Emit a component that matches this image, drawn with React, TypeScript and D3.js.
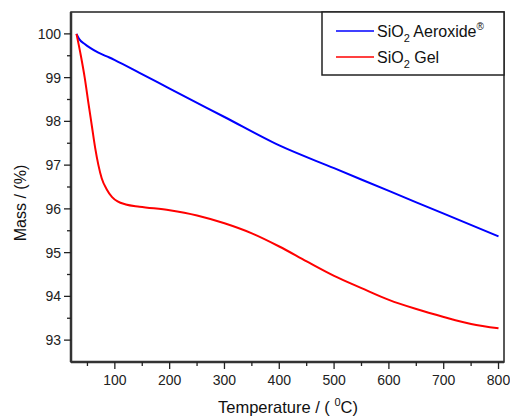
import React, { useEffect, useRef } from "react";
import * as d3 from "d3";

// temperature (°C) / mass (%)
const aeroxideTemp = [30, 35, 45, 55, 70, 90, 100, 145, 200, 300, 400, 500, 600, 700, 800];
const aeroxideMass = [100, 99.88, 99.77, 99.68, 99.57, 99.46, 99.4, 99.11, 98.75, 98.1, 97.45, 96.93, 96.41, 95.89, 95.37];

const gelTemp = [30, 38, 45, 52, 58, 64, 70, 76, 85, 95, 105, 120, 145, 200, 250, 300, 350, 400, 450, 500, 550, 600, 650, 700, 750, 800];
const gelMass = [100, 99.5, 99.0, 98.4, 97.9, 97.4, 97.0, 96.7, 96.45, 96.27, 96.17, 96.1, 96.05, 95.97, 95.85, 95.67, 95.44, 95.14, 94.8, 94.47, 94.19, 93.92, 93.71, 93.53, 93.37, 93.27];

const xTicks = [100, 200, 300, 400, 500, 600, 700, 800];
const xMinor = [50, 150, 250, 350, 450, 550, 650, 750];
const yTicks = [93, 94, 95, 96, 97, 98, 99, 100];
const yMinor = [93.5, 94.5, 95.5, 96.5, 97.5, 98.5, 99.5];

const series = [
  { name: "Aeroxide", color: "#0000ff", temp: aeroxideTemp, mass: aeroxideMass },
  { name: "Gel", color: "#ff0000", temp: gelTemp, mass: gelMass },
];

export default function App() {
  const ref = useRef<SVGSVGElement>(null);

  useEffect(() => {
    const left = 71, right = 504, top = 12, bottom = 362;
    const font = "'Liberation Sans', Arial, sans-serif";

    const svg = d3.select(ref.current);
    svg.selectAll("*").remove();

    const x = d3.scaleLinear().domain([20, 810]).range([left, right]);
    const y = d3.scaleLinear().domain([92.5, 100.5]).range([bottom, top]);

    // curves
    series.forEach(s => {
      const pts = s.temp.map((t, i) => [t, s.mass[i]] as [number, number]);
      const line = d3.line<[number, number]>()
        .x(d => x(d[0]))
        .y(d => y(d[1]))
        .curve(d3.curveMonotoneX);
      svg.append("path")
        .datum(pts)
        .attr("fill", "none")
        .attr("stroke", s.color)
        .attr("stroke-width", 2)
        .attr("d", line);
    });

    // frame
    svg.append("rect")
      .attr("x", left).attr("y", top)
      .attr("width", right - left).attr("height", bottom - top)
      .attr("fill", "none").attr("stroke", "#222").attr("stroke-width", 1.5);

    // x axis
    const xAxis = svg.append("g").attr("transform", `translate(0,${bottom})`);
    xAxis.append("line").attr("x1", left).attr("x2", right)
      .attr("stroke", "#333").attr("stroke-width", 2.5);
    xAxis.selectAll(".maj").data(xTicks).enter().append("line")
      .attr("x1", d => x(d)).attr("x2", d => x(d))
      .attr("y1", 0).attr("y2", 7).attr("stroke", "#222").attr("stroke-width", 1.3);
    xAxis.selectAll(".min").data(xMinor).enter().append("line")
      .attr("x1", d => x(d)).attr("x2", d => x(d))
      .attr("y1", 0).attr("y2", 4).attr("stroke", "#222").attr("stroke-width", 1.3);
    xAxis.selectAll("text").data(xTicks).enter().append("text")
      .attr("x", d => x(d)).attr("y", 23)
      .attr("text-anchor", "middle")
      .attr("font-family", font).attr("font-size", 14).attr("fill", "#222")
      .text(d => d);

    // y axis
    const yAxis = svg.append("g").attr("transform", `translate(${left},0)`);
    yAxis.append("line").attr("y1", top).attr("y2", bottom)
      .attr("stroke", "#333").attr("stroke-width", 2.5);
    yAxis.selectAll(".maj").data(yTicks).enter().append("line")
      .attr("y1", d => y(d)).attr("y2", d => y(d))
      .attr("x1", 0).attr("x2", -7).attr("stroke", "#222").attr("stroke-width", 1.3);
    yAxis.selectAll(".min").data(yMinor).enter().append("line")
      .attr("y1", d => y(d)).attr("y2", d => y(d))
      .attr("x1", 0).attr("x2", -4).attr("stroke", "#222").attr("stroke-width", 1.3);
    yAxis.selectAll("text").data(yTicks).enter().append("text")
      .attr("x", -10).attr("y", d => y(d) + 5)
      .attr("text-anchor", "end")
      .attr("font-family", font).attr("font-size", 14).attr("fill", "#222")
      .text(d => d);

    // axis titles
    const xt = svg.append("text")
      .attr("x", 288).attr("y", 413)
      .attr("text-anchor", "middle")
      .attr("font-family", font).attr("font-size", 16.5).attr("fill", "#111");
    xt.append("tspan").text("Temperature / ( ");
    xt.append("tspan").attr("font-size", 11).attr("dy", -7).text("0");
    xt.append("tspan").attr("dy", 7).text("C)");

    svg.append("text")
      .attr("transform", `translate(26,203) rotate(-90)`)
      .attr("text-anchor", "middle")
      .attr("font-family", font).attr("font-size", 16).attr("fill", "#111")
      .text("Mass / (%)");

    // legend
    const lg = svg.append("g");
    lg.append("rect")
      .attr("x", 322).attr("y", top).attr("width", right - 322).attr("height", 63)
      .attr("fill", "#fff").attr("stroke", "#222").attr("stroke-width", 1.5);
    const rows = [
      { color: series[0].color, label: "Aeroxide", sup: true, yy: 31 },
      { color: series[1].color, label: "Gel", sup: false, yy: 57 },
    ];
    rows.forEach(r => {
      lg.append("line").attr("x1", 336).attr("x2", 374)
        .attr("y1", r.yy).attr("y2", r.yy)
        .attr("stroke", r.color).attr("stroke-width", 1.5);
      const t = lg.append("text").attr("x", 377).attr("y", r.yy + 6)
        .attr("font-family", font).attr("font-size", 16).attr("fill", "#111");
      t.append("tspan").text("SiO");
      t.append("tspan").attr("font-size", 11).attr("dy", 5).text("2");
      t.append("tspan").attr("dy", -5).text(" " + r.label);
      if (r.sup) t.append("tspan").attr("font-size", 10).attr("dy", -7).text("®");
    });
  }, []);

  return (
    <svg ref={ref} width={510} height={417} style={{ display: "block", position: "absolute", left: 0, top: 0, background: "#fff" }} />
  );
}
